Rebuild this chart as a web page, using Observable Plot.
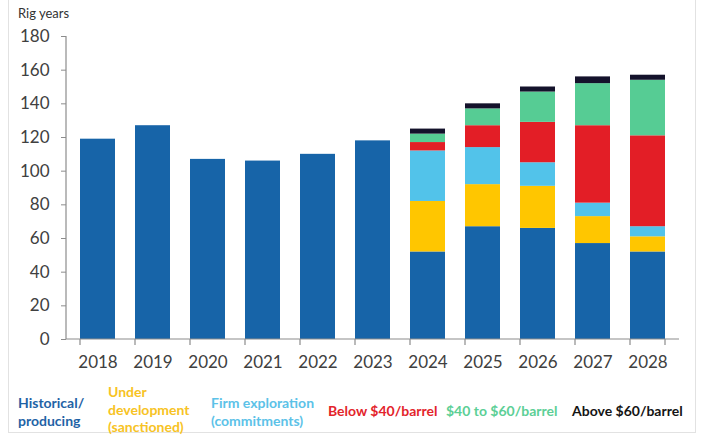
<!DOCTYPE html>
<html>
<head>
<meta charset="utf-8">
<script src="https://cdn.jsdelivr.net/npm/d3@7"></script>
<script src="https://cdn.jsdelivr.net/npm/@observablehq/plot@0.6"></script>
<style>
  html, body { margin: 0; padding: 0; background: #fff; }
  #wrap { position: relative; width: 702px; height: 436px; overflow: hidden; font-family: Lato, "Open Sans", sans-serif; }
  #border { position: absolute; left: 8px; top: -2px; width: 688px; height: 435px; border: 1px solid #e2e2e2; box-sizing: border-box; }
  #ylabel { position: absolute; left: 18px; top: 5px; font-size: 13px; color: #333; }
  #chart { position: absolute; left: 0; top: 0; }
  .lg { position: absolute; font-weight: bold; font-size: 14px; line-height: 17.5px; white-space: nowrap; }
</style>
</head>
<body>
<div id="wrap">
  <div id="border"></div>
  <div id="chart"></div>
  <div id="ylabel">Rig years</div>
  <div id="legend"></div>
</div>
<script>
const years = ["2018","2019","2020","2021","2022","2023","2024","2025","2026","2027","2028"];
const seriesNames = ["Historical/ producing","Under development (sanctioned)","Firm exploration (commitments)","Below $40/barrel","$40 to $60/barrel","Above $60/barrel"];
const seriesColors = ["#1764a8","#ffc600","#52c3ea","#e31e26","#56cc94","#14122b"];
const historical  = [119,127,107,106,110,118,52,67,66,57,52];
const underDev    = [0,0,0,0,0,0,30,25,25,16,9];
const firmExpl    = [0,0,0,0,0,0,30,22,14,8,6];
const below40     = [0,0,0,0,0,0,5,13,24,46,54];
const from40to60  = [0,0,0,0,0,0,5,10,18,25,33];
const above60     = [0,0,0,0,0,0,3,3,3,4,3];
const yTicks = [0,20,40,60,80,100,120,140,160,180];

const seriesValues = [historical, underDev, firmExpl, below40, from40to60, above60];
const data = [];
years.forEach((yr, i) => {
  seriesValues.forEach((vals, s) => {
    if (vals[i] > 0) data.push({year: yr, series: seriesNames[s], value: vals[i]});
  });
});

const W = 702, H = 380, mL = 66, mR = 23, mT = 36, mB = 41;

const axisLines = (index, scales, values, dims) => {
  const g = document.createElementNS("http://www.w3.org/2000/svg", "g");
  const x = scales.x, bw = x.bandwidth();
  const y0 = dims.height - dims.marginBottom;
  const xl = dims.marginLeft, xr = dims.width - dims.marginRight;
  const mk = (x1, y1, x2, y2) => {
    const l = document.createElementNS("http://www.w3.org/2000/svg", "line");
    l.setAttribute("x1", x1); l.setAttribute("y1", y1);
    l.setAttribute("x2", x2); l.setAttribute("y2", y2);
    l.setAttribute("stroke", "#8c8c8c"); l.setAttribute("stroke-width", 1.2);
    g.appendChild(l);
  };
  mk(xl, y0, xr, y0);
  mk(xl, scales.y(180), xl, y0);
  const bounds = years.map(d => x(d));
  bounds.push(x(years[years.length - 1]) + bw);
  bounds.forEach(b => mk(b, y0, b, y0 + 6));
  return g;
};

const chart = Plot.plot({
  width: W, height: H,
  marginLeft: mL, marginRight: mR, marginTop: mT, marginBottom: mB,
  style: {fontFamily: "Lato, 'Open Sans', sans-serif", background: "transparent"},
  x: {domain: years, paddingInner: 0.37, paddingOuter: 0.185, align: 0.5, label: null},
  y: {domain: [0, 180], label: null},
  color: {domain: seriesNames, range: seriesColors},
  marks: [
    Plot.barY(data, {x: "year", y: "value", fill: "series", order: seriesNames}),
    Plot.axisY({ticks: yTicks, tickSize: 5, tickPadding: 12, fontSize: 17, stroke: "#8c8c8c", fill: "#404040", label: null}),
    Plot.axisX({tickSize: 0, tickPadding: 16, fontSize: 17, fill: "#404040", label: null}),
    axisLines
  ]
});
document.getElementById("chart").appendChild(chart);

const legendPos = [
  {left: 18, top: 394},
  {left: 108, top: 383},
  {left: 211, top: 394},
  {left: 328, top: 402},
  {left: 446, top: 402},
  {left: 572, top: 402}
];
const legendLines = [
  ["Historical/", "producing"],
  ["Under", "development", "(sanctioned)"],
  ["Firm exploration", "(commitments)"],
  ["Below $40/barrel"],
  ["$40 to $60/barrel"],
  ["Above $60/barrel"]
];
const legendColors = ["#1f63a6","#f7c324","#5cc2e8","#e3242b","#5ccf96","#141414"];
const lg = document.getElementById("legend");
legendLines.forEach((lines, i) => {
  const d = document.createElement("div");
  d.className = "lg";
  d.style.left = legendPos[i].left + "px";
  d.style.top = legendPos[i].top + "px";
  d.style.color = legendColors[i];
  d.innerHTML = lines.join("<br>");
  lg.appendChild(d);
});
</script>
</body>
</html>
